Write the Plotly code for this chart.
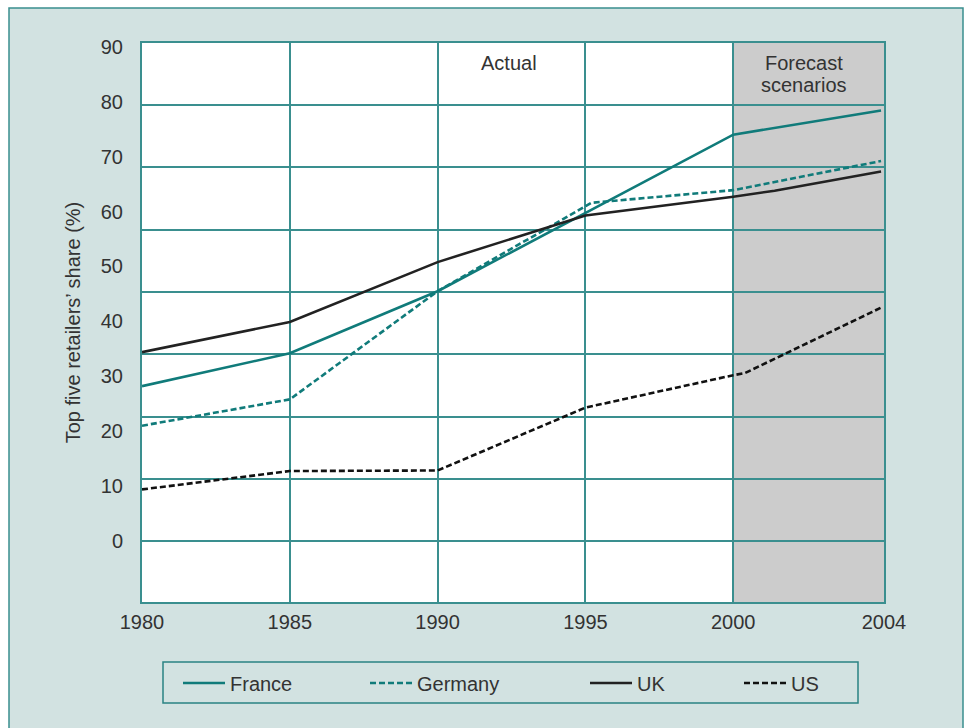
import plotly.graph_objects as go

# ---------------- data ----------------
france_years = [1980, 1985, 1990, 1995, 2000, 2005]
france_share = [28.2, 34.2, 45.5, 59.7, 74.0, 78.4]

germany_years = [1980, 1985, 1990, 1995.2, 2000, 2005]
germany_share = [21.0, 25.8, 45.5, 61.6, 63.9, 69.2]

uk_years = [1980, 1985, 1990, 1995, 2000, 2001.4, 2005]
uk_share = [34.4, 39.9, 50.8, 59.3, 62.7, 63.8, 67.3]

us_years = [1980, 1985, 1990, 1995, 2000, 2000.4, 2005]
us_share = [9.4, 12.75, 12.85, 24.3, 30.2, 30.6, 42.5]

x_tick_vals = [1980, 1985, 1990, 1995, 2000, 2005.1]
x_tick_text = ["1980", "1985", "1990", "1995", "2000", "2004"]
y_tick_vals = [0, 10, 20, 30, 40, 50, 60, 70, 80, 90]
forecast_start, forecast_end = 2000, 2005.1

# ---------------- styling / layout geometry ----------------
W, H = 968, 728
ML, MR, MT, MB = 142, 84, 43, 126
PW, PH = W - ML - MR, H - MT - MB
TEAL = "#107b7a"
GRID = "#3a8f8f"
BG = "#d2e2e1"
TXT = "#333333"
FONT = "Liberation Sans, Arial, sans-serif"


def px_x(p):
    return (p - ML) / PW


def px_y(p):
    return (H - MB - p) / PH


fig = go.Figure()

# transparent helper so the grid-only axis gets drawn
fig.add_trace(go.Scatter(
    x=[x_tick_vals[0]], y=[y_tick_vals[0]], mode="markers",
    marker=dict(opacity=0), hoverinfo="skip", showlegend=False, yaxis="y",
))

series = [
    ("France", france_years, france_share, TEAL, "solid", "legend", 182),
    ("Germany", germany_years, germany_share, TEAL, "6px,3px", "legend2", 369),
    ("UK", uk_years, uk_share, "#222222", "solid", "legend3", 589),
    ("US", us_years, us_share, "#111111", "6px,3px", "legend4", 743),
]

for name, xs, ys, col, dash, leg, _ in series:
    fig.add_trace(go.Scatter(
        x=xs, y=ys, name=name, mode="lines",
        line=dict(color=col, width=2.6, dash=dash),
        yaxis="y2", legend=leg, showlegend=True,
    ))

legend_layout = {}
for name, xs, ys, col, dash, leg, lx in series:
    legend_layout[leg] = dict(
        x=px_x(lx - 4), y=px_y(683), xanchor="left", yanchor="middle",
        xref="paper", yref="paper", itemwidth=42,
        orientation="h", bgcolor="rgba(0,0,0,0)", borderwidth=0,
        font=dict(family=FONT, size=20, color=TXT),
    )

shapes = [
    # forecast shading
    dict(type="rect", xref="x", yref="paper", x0=forecast_start, x1=forecast_end,
         y0=0, y1=1, fillcolor="#cccccc", line=dict(width=0), layer="below"),
    # white strips outside the outer frame
    dict(type="rect", xref="paper", yref="paper", x0=px_x(-5), x1=px_x(9),
         y0=px_y(740), y1=px_y(-5), fillcolor="white", line=dict(width=0)),
    dict(type="rect", xref="paper", yref="paper", x0=px_x(-5), x1=px_x(975),
         y0=px_y(8), y1=px_y(-5), fillcolor="white", line=dict(width=0)),
    dict(type="rect", xref="paper", yref="paper", x0=px_x(963), x1=px_x(975),
         y0=px_y(740), y1=px_y(-5), fillcolor="white", line=dict(width=0)),
    # outer frame
    dict(type="rect", xref="paper", yref="paper", x0=px_x(9), x1=px_x(963),
         y0=px_y(740), y1=px_y(8), line=dict(color=GRID, width=1.5)),
    # legend box
    dict(type="rect", xref="paper", yref="paper", x0=px_x(163), x1=px_x(858),
         y0=px_y(703), y1=px_y(662), line=dict(color="#2a8383", width=1.5)),
]

annotations = [
    dict(text="Actual", x=1992.4, y=px_y(63), xref="x", yref="paper",
         yanchor="middle", showarrow=False,
         font=dict(family=FONT, size=20, color=TXT)),
    dict(text="Forecast", x=2002.4, y=px_y(63), xref="x", yref="paper",
         yanchor="middle", showarrow=False,
         font=dict(family=FONT, size=20, color=TXT)),
    dict(text="scenarios", x=2002.4, y=px_y(85), xref="x", yref="paper",
         yanchor="middle", showarrow=False,
         font=dict(family=FONT, size=20, color=TXT)),
]

YR = [-11.1, 90.7]

fig.update_layout(
    width=W, height=H,
    margin=dict(l=ML, r=MR, t=MT, b=MB, pad=0),
    paper_bgcolor=BG, plot_bgcolor="white",
    font=dict(family=FONT, size=20, color=TXT),
    shapes=shapes, annotations=annotations,
    xaxis=dict(
        range=[1980, forecast_end], tickmode="array",
        tickvals=x_tick_vals, ticktext=x_tick_text,
        showgrid=True, gridcolor=GRID, gridwidth=1.8,
        showline=True, linecolor=GRID, linewidth=2, mirror=True,
        ticks="outside", ticklen=1, tickcolor="rgba(0,0,0,0)",
        zeroline=False, tickfont=dict(size=20, color=TXT),
    ),
    # grid-only axis (evenly spaced horizontal rules)
    yaxis=dict(
        range=YR, tickmode="linear", tick0=0, dtick=11.34, showgrid=True,
        gridcolor=GRID, gridwidth=1.8, showticklabels=False,
        showline=True, linecolor=GRID, linewidth=2, mirror=True,
        zeroline=False, ticks="",
    ),
    # label axis
    yaxis2=dict(
        range=YR, overlaying="y", side="left", tickmode="array",
        tickvals=y_tick_vals, showgrid=False, zeroline=False,
        ticks="outside", ticklen=14, tickcolor="rgba(0,0,0,0)",
        tickfont=dict(size=20, color=TXT),
        title=dict(text="Top five retailers’ share (%)", standoff=14,
                   font=dict(size=20, color=TXT)),
    ),
    **legend_layout,
)

fig.write_html("out.html")
